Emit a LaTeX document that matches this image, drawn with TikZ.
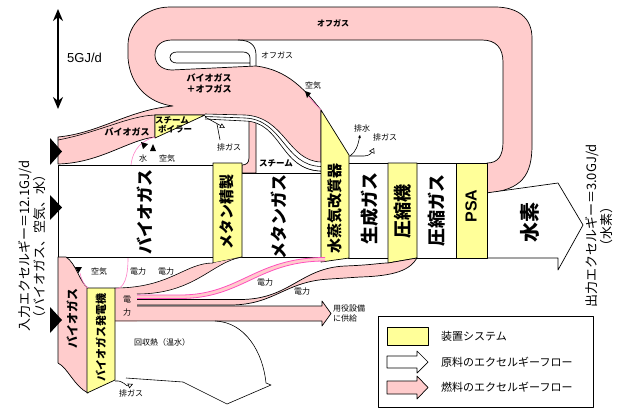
\documentclass[tikz,border=0pt]{standalone}
\usepackage{fontspec}
\setmainfont{Noto Sans CJK JP}
\newfontfamily\arialf{Liberation Sans}
\usetikzlibrary{arrows.meta}
\definecolor{pk}{RGB}{255,204,204}
\definecolor{yl}{RGB}{255,255,153}
\definecolor{mg}{RGB}{255,80,190}
\definecolor{lpk}{RGB}{255,130,200}
\begin{document}
\begin{tikzpicture}[x=1pt,y=-1pt,line join=round,
 pinkreg/.style={fill=pk,draw=black,line width=0.7pt},
 whitereg/.style={fill=white,draw=black,line width=0.7pt},
 unit/.style={fill=yl,draw=black,line width=0.7pt},
 bigtxt/.style={rotate=90,inner sep=0pt,font=\fontsize{17}{17}\selectfont\bfseries},
 unittxt/.style={rotate=90,inner sep=0pt,font=\fontsize{15}{15}\selectfont\bfseries},
 small/.style={inner sep=0pt,font=\fontsize{8}{9}\selectfont},
 smallb/.style={inner sep=0pt,align=center,font=\fontsize{8.5}{10.5}\selectfont\bfseries},
 side/.style={rotate=90,inner sep=0pt,align=center,font=\fontsize{13}{12.5}\selectfont},
 legtxt/.style={anchor=west,inner sep=0pt,font=\fontsize{11}{12}\selectfont},
 airline/.style={draw=lpk,line width=0.6pt},
 thin/.style={draw=black,line width=0.6pt}]

\useasboundingbox (0,0) rectangle (621,408);
\fill[white] (0,0) rectangle (621,408);

% ---------- scale bar
\coordinate (sTop) at (58,9);
\coordinate (sBot) at (58,109);
\draw[line width=1.8pt,{Stealth[length=12pt,width=10pt]}-{Stealth[length=12pt,width=10pt]}] (sTop) -- (sBot);
\node[anchor=west,inner sep=0pt,font=\arialf\fontsize{13}{13}\selectfont] (scl) at (67,58) {5GJ/d};

% ---------- big pink region (offgas loop, biogas+offgas, biogas to boiler)
\path[pinkreg] (487,193) .. controls (522,190) and (532,175) .. (532,145)
 -- (532,38) .. controls (532,18) and (518,7) .. (495,7)
 -- (170,7) .. controls (145,7) and (128,25) .. (128,45)
 -- (128,58) .. controls (130,85) and (148,103) .. (173,106)
 .. controls (128,110) and (100,133) .. (58,137)
 -- (58,164) .. controls (100,163) and (128,140) .. (155,137)
 -- (155,115) -- (205,115) -- (249,117)
 -- (249,158) .. controls (249,163) and (246,165) .. (242,165)
 -- (242,173) -- (256,173)
 -- (256,122) .. controls (285,124) and (282,170) .. (321,171)
 -- (321,110) .. controls (305,90) and (288,70) .. (256,66)
 -- (172,70) .. controls (161,70) and (155,63) .. (155,55)
 .. controls (155,46) and (161,40) .. (172,40)
 -- (482,40) .. controls (496,40) and (503,48) .. (503,62)
 -- (503,142) .. controls (503,156) and (498,163) .. (487,163) -- cycle;
\draw[thin] (58,140) .. controls (100,132) and (128,116) .. (155,115);

% small offgas hook
\draw[line width=0.7pt] (238,40) .. controls (251,40) and (256,46) .. (256,55) -- (256,66);
\draw[fill=white,line width=0.7pt] (250,66) -- (250,58) .. controls (250,54) and (247,52) .. (243,52)
 -- (177,52) .. controls (173,52) and (170,54) .. (170,57.5) .. controls (170,61) and (173,63) .. (177,63) -- (250,63);

% steam band
\path[fill=white] (205,114) -- (245,115) .. controls (285,117) and (288,161) .. (321,162)
 -- (321,171) .. controls (282,170) and (280,122) .. (245,121) -- (205,119) -- cycle;
\draw[thin] (205,114) -- (245,115) .. controls (285,117) and (288,161) .. (321,162);
\draw[thin] (205,116.5) -- (245,118) .. controls (283,119.5) and (284,165.5) .. (321,166.5);
\draw[thin] (205,119) -- (245,121) .. controls (282,122) and (280,170) .. (321,171);

% steam boiler
\path[unit] (155,115) -- (205,115) -- (155,138) -- cycle;
\node[smallb] (sb1) at (172,120) {スチーム};
\node[smallb] (sb2) at (175,129) {ボイラー};
\coordinate (bx1) at (205,117);
\coordinate (bx2) at (225,128);
\draw[thin,-{Triangle[open,length=5pt,width=5pt]}] (bx1) -- (bx2);
\draw[thin] (217,124) -- (220,140);
\node[small] (bex) at (229,147) {排ガス};
% water / air into boiler
\draw[airline] (131,165) .. controls (133,148) and (143,140) .. (155,137);
\fill (141,142) -- (148,144) -- (143,149) -- cycle;
\fill (153,144) -- (150,151) -- (156,151) -- cycle;
\node[small] (bw) at (143,158) {水};
\node[small] (ba) at (167,158) {空気};

% ---------- main white flows
\path[whitereg] (58,165) rectangle (214,257);
\path[whitereg] (241,173) rectangle (322,257);
\path[whitereg] (348,163) rectangle (389,258);
\path[whitereg] (416,163) rectangle (457,258);
\path[whitereg] (486,193) -- (558,183) -- (583,225) -- (558,270) -- (558,258) -- (486,258) -- cycle;

% units
\path[unit] (213,163) -- (242,163) -- (242,257) -- (213,263) -- cycle;
\path[unit] (321,110) -- (349,155) -- (349,258) -- (321,262) -- cycle;
\path[unit] (388,163) -- (417,163) -- (417,258) -- (388,263) -- cycle;
\path[unit] (456,163) -- (487,163) -- (487,258) -- (456,258) -- cycle;

% reformer air / drain / exhaust
\draw[airline] (309,97) .. controls (313,102) and (317,106) .. (321,110);
\fill (305,91) -- (311,93) -- (307,98) -- cycle;
\node[small] (ra) at (313,85) {空気};
\draw[thin,-{Stealth[length=3pt,width=3pt]}] (350,156) .. controls (356,152) and (358,145) .. (360,135);
\node[small] (rd) at (362,128) {排水};
\draw[thin,-{Triangle[open,length=5pt,width=6pt]}] (349,156) -- (364,156) .. controls (370,156) and (372,152) .. (374,148);
\node[small] (rx) at (385,137) {排ガス};

% ---------- lower pink: biogas to generator
\path[pinkreg] (58,257) -- (66,257) .. controls (76,263) and (80,283) .. (88,288)
 -- (88,393) .. controls (74,386) and (68,368) .. (58,363) -- cycle;
\fill[pk] (114,288) rectangle (137,321.5);
% electricity to methane refining
\fill[pk] (115,288) .. controls (170,288) and (185,263) .. (213,263) -- (242,257)
 .. controls (212,262) and (195,294) .. (137,294) -- (115,294) -- cycle;
\draw[thin] (115,288) .. controls (170,288) and (185,263) .. (213,263);
\draw[thin] (242,257) .. controls (212,262) and (195,294) .. (137,294);
% electricity to reformer
\fill[pk] (137,295) -- (180,295) .. controls (240,295) and (255,257.5) .. (325,257.5)
 -- (325,261) .. controls (258,261) and (243,298.5) .. (180,298.5) -- (137,298.5) -- cycle;
\draw[mg,line width=0.8pt] (137,295) -- (180,295) .. controls (240,295) and (255,257.5) .. (325,257.5);
\draw[mg,line width=0.8pt] (137,298.5) -- (180,298.5) .. controls (243,298.5) and (258,261) .. (325,261);
% electricity to compressor
\path[pinkreg] (137,299.5) -- (240,299.5) .. controls (290,299.5) and (300,268) .. (345,266)
 .. controls (372,265) and (380,263) .. (388,263) -- (417,258)
 .. controls (410,270) and (395,276) .. (360,277) -- (330,279)
 .. controls (285,281) and (275,305) .. (230,305) -- (137,305);
% utility arrow
\path[pinkreg] (137,306) -- (322,306) -- (322,301) -- (331,313.5) -- (322,326) -- (322,321) -- (115,321);
% recovered heat
\path[fill=white] (115,321.5) -- (215,321.5) .. controls (245,322) and (263,352) .. (266,383)
 -- (271,385) -- (227,404) -- (183,382) -- (115,378) -- cycle;
\draw[thin] (215,321) .. controls (245,322) and (263,352) .. (266,383) -- (271,385) -- (227,404) -- (183,382) -- (126,378);
% generator
\path[unit] (87,288) -- (115,288) -- (115,380) -- (87,393) -- cycle;
\draw[airline] (128,258) .. controls (128,278) and (124,288) .. (116,289);
\draw[airline] (80,273) .. controls (82,282) and (85,286) .. (88,288);
\fill (75,267) -- (82,267) -- (78.5,273) -- cycle;
\node[small] (ga) at (99,271) {空気};
\coordinate (gx1) at (115,381);
\coordinate (gx2) at (133,384);
\draw[thin,-{Triangle[open,length=5pt,width=5pt]}] (gx1) .. controls (124,380) and (126,387) .. (gx2);
\node[small] (gex) at (131,393) {排ガス};

% side triangles
\fill (50,138) -- (62,151.5) -- (50,165) -- cycle;
\fill (50,195) -- (62,207.5) -- (50,220) -- cycle;
\fill (50,307) -- (62,320) -- (50,333) -- cycle;

% ---------- labels
\node[bigtxt] (tBio) at (145,212) {バイオガス};
\node[unittxt] (tMr) at (227,212) {メタン精製};
\node[bigtxt] (tMg) at (279,217) {メタンガス};
\node[unittxt] (tRf) at (335,208) {水蒸気改質器};
\node[bigtxt,font=\fontsize{18}{18}\selectfont\bfseries] (tGg) at (370,208) {生成ガス};
\node[bigtxt,font=\fontsize{18}{18}\selectfont\bfseries] (tCp) at (403,211) {圧縮機};
\node[bigtxt,font=\fontsize{18}{18}\selectfont\bfseries] (tCg) at (437,210) {圧縮ガス};
\node[unittxt,font=\arialf\fontsize{16}{16}\selectfont\bfseries] (tPsa) at (471,206) {PSA};
\node[bigtxt,font=\fontsize{20}{20}\selectfont\bfseries] (tH) at (530,222) {水素};
\node[rotate=90,inner sep=0pt,font=\fontsize{12}{12}\selectfont\bfseries] (tBio2) at (72,318) {バイオガス};
\node[rotate=90,inner sep=0pt,font=\fontsize{11}{11}\selectfont\bfseries] (tGen) at (101,337) {バイオガス発電機};

\node[small,font=\fontsize{8}{9}\selectfont\bfseries] (og1) at (333,23) {オフガス};
\node[small] (og2) at (277,55) {オフガス};
\node[smallb,font=\fontsize{9}{11}\selectfont\bfseries] (bog) at (209,83) {バイオガス\\＋オフガス};
\node[smallb,font=\fontsize{9}{10}\selectfont\bfseries] (bg) at (127,132) {バイオガス};
\node[smallb] (st) at (276,163) {スチーム};

\node[small] (e1) at (138,271) {電力};
\node[small] (e2) at (166,271) {電力};
\node[small] (e3) at (265,282) {電力};
\node[small] (e4) at (302,291) {電力};
\node[small] (e5) at (127,300) {電};
\node[small] (e6) at (127,312) {力};
\node[small,anchor=north west,align=left,font=\fontsize{8}{10}\selectfont] (ut) at (333,305) {用役設備\\に供給};
\node[small] (heat) at (162,342) {回収熱（温水）};

\node[side] (inL) at (32,246) {入力エクセルギー＝12.1GJ/d\\（バイオガス、空気、水）};
\node[side] (outL) at (599,226) {出力エクセルギー＝3.0GJ/d\\（水素）};

% ---------- legend
\draw[line width=0.7pt] (378,316) rectangle (593,407);
\path[unit] (387,327) rectangle (428,345);
\path[whitereg] (387,356) -- (417,356) -- (417,351) -- (428,362) -- (417,373) -- (417,368) -- (387,368) -- cycle;
\path[pinkreg] (387,381) -- (417,381) -- (417,376) -- (428,387.5) -- (417,399) -- (417,394) -- (387,394) -- cycle;
\node[legtxt] (l1) at (441,336) {装置システム};
\node[legtxt] (l2) at (441,362) {原料のエクセルギーフロー};
\node[legtxt] (l3) at (441,387.5) {燃料のエクセルギーフロー};
\end{tikzpicture}
\end{document}
